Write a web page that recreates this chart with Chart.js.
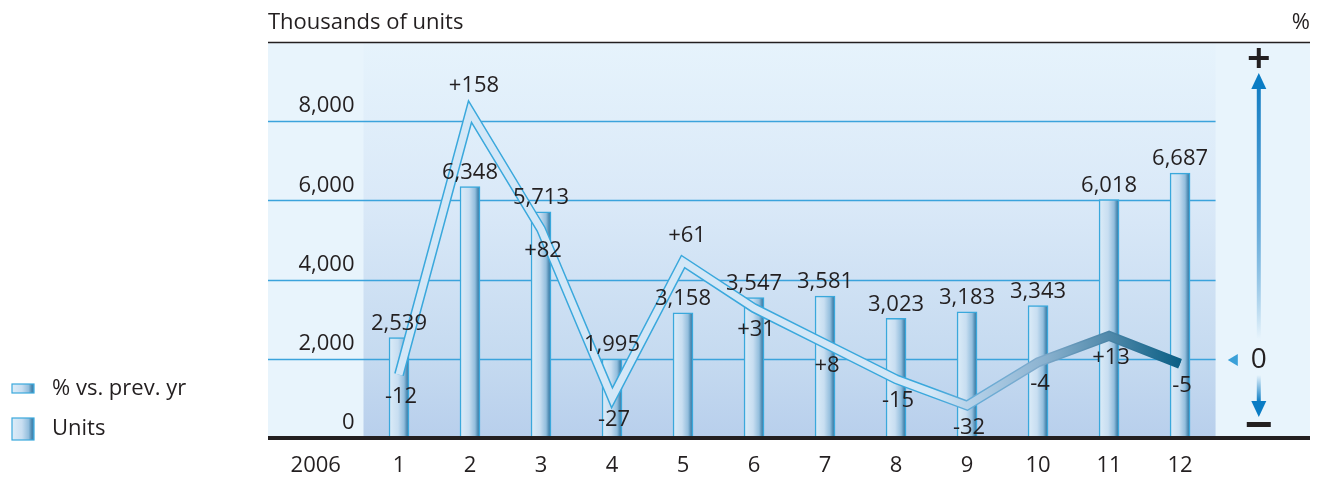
<!DOCTYPE html>
<html>
<head>
<meta charset="utf-8">
<script src="https://cdn.jsdelivr.net/npm/chart.js@4.4.1/dist/chart.umd.min.js"></script>
<style>
  html, body { margin: 0; padding: 0; background: #fff; }
  #wrap { width: 1327px; height: 477px; }
</style>
</head>
<body>
<div id="wrap"><canvas id="chart" width="1327" height="477"></canvas></div>
<script>
const yearLabel = "2006";
const months = ["1", "2", "3", "4", "5", "6", "7", "8", "9", "10", "11", "12"];
const units = [2539, 6348, 5713, 1995, 3158, 3547, 3581, 3023, 3183, 3343, 6018, 6687];
const pctChange = [-12, 158, 82, -27, 61, 31, 8, -15, -32, -4, 13, -5];
const unitTicks = [0, 2000, 4000, 6000, 8000];
const legendLabels = ["% vs. prev. yr", "Units"];
const leftTitle = "Thousands of units";
const rightTitle = "%";

const FONT = '"Open Sans", "Noto Sans", sans-serif';
const INK = "#231f20";
const GRID = "#3ba3dc";

function fmt(n) {
  return n.toLocaleString("en-US");
}
function signed(n) {
  return n > 0 ? "+" + n : String(n);
}

function barGradient(ctx, x0, x1) {
  const g = ctx.createLinearGradient(x0, 0, x1, 0);
  g.addColorStop(0, "#dcecf8");
  g.addColorStop(0.45, "#c8def1");
  g.addColorStop(0.75, "#93bedd");
  g.addColorStop(0.92, "#4181aa");
  g.addColorStop(1, "#5a9fcc");
  return g;
}

// colour stops along the x axis (in category units) for the ribbon line
const outerStops = [[0, "#3aa8dc"], [8.5, "#3aa8dc"], [9, "#62acd8"], [10, "#80aacb"], [11, "#4a84a6"], [12, "#0b5f85"]];
const innerStops = [[0, "#d3e7f7"], [8.5, "#d3e7f7"], [9, "#b7d3ea"], [10, "#8fb5d2"], [11, "#5089aa"], [12, "#0b5f85"]];

function ribbonGradient(chart, stops) {
  const a = chart.chartArea, x = chart.scales.x;
  const g = chart.ctx.createLinearGradient(a.left, 0, a.right, 0);
  const w = a.right - a.left;
  stops.forEach(([v, c]) => {
    const t = (x.getPixelForValue(v) - a.left) / w;
    g.addColorStop(Math.min(1, Math.max(0, t)), c);
  });
  return g;
}

const decorPlugin = {
  id: "decor",
  beforeDraw(chart) {
    const { ctx, chartArea: a, scales } = chart;
    const x = scales.x, y = scales.y;
    const innerL = x.getPixelForValue(0.5);
    const innerR = x.getPixelForValue(months.length + 0.5);
    ctx.save();
    ctx.fillStyle = "#e8f4fc";
    ctx.fillRect(a.left, a.top, a.right - a.left, a.bottom - a.top);
    const g = ctx.createLinearGradient(0, a.top, 0, a.bottom);
    g.addColorStop(0, "#e6f3fc");
    g.addColorStop(0.4, "#dae9f8");
    g.addColorStop(0.8, "#c5daf0");
    g.addColorStop(1, "#b8cfec");
    ctx.fillStyle = g;
    ctx.fillRect(innerL, a.top, innerR - innerL, a.bottom - a.top);
    ctx.strokeStyle = GRID;
    ctx.lineWidth = 1.5;
    unitTicks.filter(v => v > 0).forEach(v => {
      const py = Math.round(y.getPixelForValue(v)) + 0.5;
      ctx.beginPath();
      ctx.moveTo(a.left, py);
      ctx.lineTo(innerR, py);
      ctx.stroke();
    });
    ctx.strokeStyle = INK;
    ctx.lineWidth = 1.5;
    ctx.beginPath();
    ctx.moveTo(a.left, a.top + 0.5);
    ctx.lineTo(a.right, a.top + 0.5);
    ctx.stroke();
    ctx.restore();
  },
  afterDatasetsDraw(chart) {
    const { ctx, chartArea: a, scales } = chart;
    const x = scales.x, y = scales.y, y1 = scales.y1;
    const innerL = x.getPixelForValue(0.5);
    const innerR = x.getPixelForValue(months.length + 0.5);
    ctx.save();

    // inner light fill of the ribbon line
    const lineMeta = chart.getDatasetMeta(1);
    ctx.beginPath();
    lineMeta.data.forEach((p, i) => (i ? ctx.lineTo(p.x, p.y) : ctx.moveTo(p.x, p.y)));
    ctx.lineWidth = 7;
    ctx.lineJoin = "miter";
    ctx.strokeStyle = ribbonGradient(chart, innerStops);
    ctx.stroke();

    // baseline
    ctx.strokeStyle = INK;
    ctx.lineWidth = 4;
    ctx.beginPath();
    ctx.moveTo(a.left, a.bottom);
    ctx.lineTo(a.right, a.bottom);
    ctx.stroke();

    ctx.fillStyle = INK;
    ctx.font = "22px " + FONT;
    ctx.textAlign = "center";

    // bar value labels
    const barMeta = chart.getDatasetMeta(0);
    ctx.textBaseline = "bottom";
    barMeta.data.forEach((b, i) => ctx.fillText(fmt(units[i]), b.x, b.y - 3));

    // percent labels
    lineMeta.data.forEach((p, i) => {
      const v = pctChange[i];
      const prev = pctChange[i - 1], next = pctChange[i + 1];
      const peak = v > 20 && (prev === undefined || v > prev) && (next === undefined || v > next);
      if (peak) {
        ctx.textBaseline = "bottom";
        ctx.fillText(signed(v), p.x + 4, p.y - 15);
      } else {
        ctx.textBaseline = "top";
        ctx.fillText(signed(v), p.x + 2, p.y + 11);
      }
    });

    // left tick labels
    ctx.textAlign = "right";
    ctx.textBaseline = "bottom";
    unitTicks.forEach(v => ctx.fillText(fmt(v), innerL - 9, y.getPixelForValue(v) - 4));

    // x labels
    ctx.textAlign = "center";
    ctx.textBaseline = "middle";
    ctx.fillText(yearLabel, (a.left + innerL) / 2, a.bottom + 28);
    months.forEach((m, i) => ctx.fillText(m, x.getPixelForValue(i + 1), a.bottom + 28));

    // titles
    ctx.textAlign = "left";
    ctx.fillText(leftTitle, a.left, a.top - 19);
    ctx.textAlign = "right";
    ctx.fillText(rightTitle, a.right, a.top - 19);

    // legend
    ctx.textAlign = "left";
    const lx = 12;
    const ly0 = a.bottom - 49, ly1 = a.bottom - 9;
    ctx.fillStyle = barGradient(ctx, lx, lx + 22);
    ctx.fillRect(lx, ly0 - 5, 22, 9);
    ctx.strokeStyle = "#3aa8dc";
    ctx.lineWidth = 1.2;
    ctx.strokeRect(lx, ly0 - 5, 22, 9);
    ctx.fillStyle = barGradient(ctx, lx, lx + 22);
    ctx.fillRect(lx, ly1 - 11, 22, 22);
    ctx.strokeRect(lx, ly1 - 11, 22, 22);
    ctx.fillStyle = INK;
    ctx.fillText(legendLabels[0], 52, ly0);
    ctx.fillText(legendLabels[1], 52, ly1);

    // right-hand direction scale
    const ax = (innerR + a.right) / 2 - 4;
    const y0 = y1.getPixelForValue(0) + 3;
    ctx.fillStyle = INK;
    ctx.fillRect(ax - 10, a.top + 14, 20, 4);
    ctx.fillRect(ax - 2, a.top + 6, 4, 20);
    ctx.fillRect(ax - 12, a.bottom - 16, 24, 5);

    const up = ctx.createLinearGradient(0, a.top + 30, 0, y0 - 20);
    up.addColorStop(0, "#0a78c0");
    up.addColorStop(0.5, "#5aa4d8");
    up.addColorStop(1, "rgba(10,120,192,0)");
    ctx.fillStyle = up;
    ctx.fillRect(ax - 2, a.top + 44, 4, y0 - 20 - (a.top + 44));
    ctx.fillStyle = "#0a7cc4";
    ctx.beginPath();
    ctx.moveTo(ax, a.top + 31);
    ctx.lineTo(ax + 7.5, a.top + 47);
    ctx.lineTo(ax - 7.5, a.top + 47);
    ctx.closePath();
    ctx.fill();

    const dn = ctx.createLinearGradient(0, y0 + 16, 0, a.bottom - 36);
    dn.addColorStop(0, "rgba(10,120,192,0)");
    dn.addColorStop(1, "#0a7cc4");
    ctx.fillStyle = dn;
    ctx.fillRect(ax - 2, y0 + 16, 4, a.bottom - 36 - (y0 + 16));
    ctx.fillStyle = "#0a7cc4";
    ctx.beginPath();
    ctx.moveTo(ax, a.bottom - 21);
    ctx.lineTo(ax + 7.5, a.bottom - 37);
    ctx.lineTo(ax - 7.5, a.bottom - 37);
    ctx.closePath();
    ctx.fill();

    ctx.fillStyle = "#3aa0d8";
    ctx.beginPath();
    ctx.moveTo(ax - 31, y0 + 1);
    ctx.lineTo(ax - 21, y0 - 5);
    ctx.lineTo(ax - 21, y0 + 7);
    ctx.closePath();
    ctx.fill();
    ctx.fillStyle = INK;
    ctx.font = "28px " + FONT;
    ctx.textAlign = "center";
    ctx.textBaseline = "middle";
    ctx.fillText("0", ax, y0 + 1);

    ctx.restore();
  }
};

new Chart(document.getElementById("chart"), {
  type: "bar",
  data: {
    datasets: [
      {
        type: "bar",
        label: legendLabels[1],
        data: units.map((v, i) => ({ x: i + 1, y: v })),
        yAxisID: "y",
        order: 1,
        barThickness: 20,
        borderWidth: 1.5,
        borderColor: "#3aa8dc",
        borderSkipped: false,
        backgroundColor: c => {
          const ch = c.chart;
          if (!ch.chartArea || !c.raw) return "#cfe3f4";
          const cx = ch.scales.x.getPixelForValue(c.raw.x);
          return barGradient(ch.ctx, cx - 10, cx + 10);
        }
      },
      {
        type: "line",
        label: legendLabels[0],
        data: pctChange.map((v, i) => ({ x: i + 1, y: v })),
        yAxisID: "y1",
        order: 0,
        borderWidth: 10,
        borderJoinStyle: "miter",
        borderColor: c => (c.chart.chartArea ? ribbonGradient(c.chart, outerStops) : "#3aa8dc"),
        pointRadius: 0,
        tension: 0,
        fill: false
      }
    ]
  },
  options: {
    responsive: false,
    animation: false,
    layout: { padding: { left: 268, right: 17, top: 42, bottom: 39 } },
    plugins: { legend: { display: false }, tooltip: { enabled: false } },
    scales: {
      x: { type: "linear", display: false, offset: false, min: -0.845, max: 13.83 },
      y: { display: false, min: 0, max: 10000 },
      y1: { display: false, min: -53, max: 203 }
    }
  },
  plugins: [decorPlugin]
});
</script>
</body>
</html>
